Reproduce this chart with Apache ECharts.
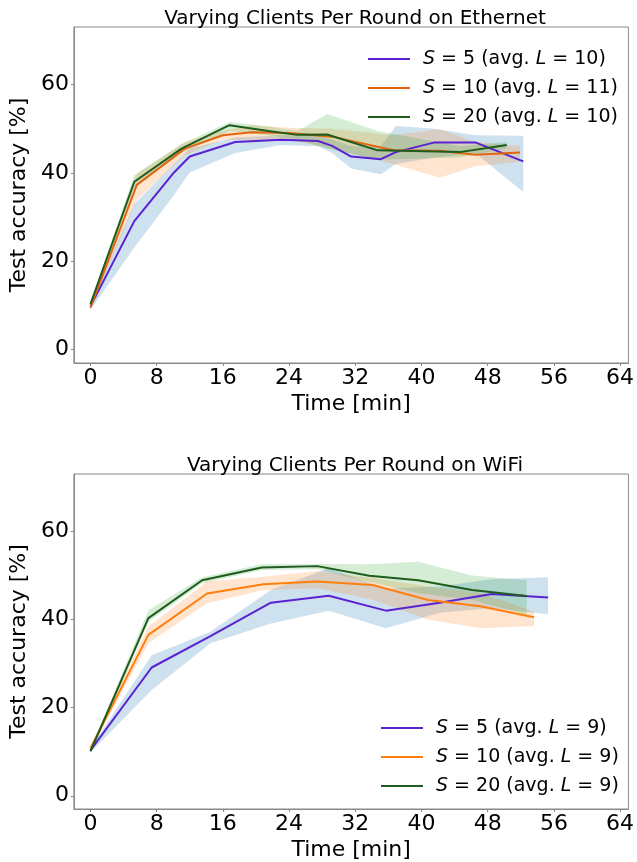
<!DOCTYPE html>
<html>
<head>
<meta charset="utf-8">
<script src="https://cdn.jsdelivr.net/npm/echarts@6/dist/echarts.min.js"></script>
<style>
  html, body { margin: 0; padding: 0; background: #fff; }
  #main { width: 637px; height: 862px; }
</style>
</head>
<body>
<div id="main"></div>
<script>
var chart = echarts.init(document.getElementById('main'));

// ---- Ethernet (top panel) ----
var ethS5Time  = [0, 5.3, 10.1, 12.0, 17.5, 23.0, 27.5, 29.2, 31.5, 35.1, 36.9, 41.6, 46.5, 52.3];
var ethS5Mean  = [9.8, 29.1, 40.1, 43.7, 47.0, 47.5, 47.2, 46.1, 43.7, 43.1, 44.7, 46.9, 46.9, 42.6];
var ethS5Low   = [9.0, 23.1, 35.0, 40.1, 44.5, 46.3, 46.0, 44.5, 41.0, 39.7, 42.0, 43.5, 44.5, 35.7];
var ethS5High  = [10.5, 33.0, 42.0, 45.5, 48.0, 48.5, 48.5, 47.5, 46.0, 46.0, 50.6, 50.0, 48.5, 48.4];

var ethS10Time = [0, 5.6, 11.4, 16.0, 19.5, 24.0, 29.2, 36.6, 42.2, 46.5, 51.9];
var ethS10Mean = [9.5, 37.3, 45.5, 48.5, 49.2, 49.0, 48.2, 45.1, 45.0, 44.1, 44.6];
var ethS10Low  = [9.2, 34.0, 44.0, 47.5, 47.5, 47.5, 45.5, 42.0, 38.9, 41.5, 42.5];
var ethS10High = [9.8, 39.8, 47.0, 49.5, 50.8, 50.2, 50.0, 48.5, 49.9, 47.0, 46.0];

var ethS20Time = [0, 5.3, 11.0, 16.8, 21.5, 25.0, 28.6, 34.7, 44.6, 50.3];
var ethS20Mean = [10.3, 38.0, 45.5, 50.8, 49.5, 48.6, 48.7, 45.1, 44.7, 46.3];
var ethS20Low  = [10.0, 36.5, 44.5, 49.5, 48.5, 47.5, 45.5, 43.0, 43.5, 45.5];
var ethS20High = [10.6, 39.5, 46.5, 51.5, 50.5, 49.5, 53.3, 49.5, 46.0, 47.0];

// ---- WiFi (bottom panel) ----
var wifiS5Time  = [0, 7.4, 14.5, 21.8, 28.8, 35.7, 42.2, 48.5, 55.3];
var wifiS5Mean  = [10.3, 29.1, 36.2, 43.8, 45.4, 42.0, 43.8, 45.8, 45.0];
var wifiS5Low   = [9.8, 24.0, 34.6, 39.1, 42.0, 38.0, 41.5, 42.6, 41.2];
var wifiS5High  = [10.8, 31.9, 37.2, 46.7, 51.6, 47.0, 47.5, 49.1, 49.6];

var wifiS10Time = [0, 7.0, 14.1, 20.9, 27.4, 34.1, 40.8, 47.1, 53.6];
var wifiS10Mean = [10.8, 36.5, 45.9, 48.0, 48.6, 47.8, 44.4, 43.0, 40.5];
var wifiS10Low  = [10.3, 34.6, 43.7, 46.7, 47.1, 44.5, 40.0, 38.0, 38.5];
var wifiS10High = [11.3, 38.4, 48.6, 49.7, 51.0, 49.4, 47.5, 46.0, 41.8];

var wifiS20Time = [0, 7.0, 13.5, 20.7, 27.4, 33.7, 39.6, 46.1, 52.7];
var wifiS20Mean = [10.1, 40.3, 48.9, 51.8, 52.1, 49.9, 48.9, 46.7, 45.3];
var wifiS20Low  = [9.8, 39.5, 48.2, 51.2, 51.4, 48.5, 46.0, 44.5, 41.0];
var wifiS20High = [10.4, 42.1, 49.6, 52.5, 52.6, 52.5, 53.1, 50.0, 48.9];

var ethNames  = ['S = 5 (avg. L = 10)', 'S = 10 (avg. L = 11)', 'S = 20 (avg. L = 10)'];
var wifiNames = ['S = 5 (avg. L = 9)', 'S = 10 (avg. L = 9)', 'S = 20 (avg. L = 9)'];
var xTicks = [0, 8, 16, 24, 32, 40, 48, 56, 64];
var yTicks = [0, 20, 40, 60];

var purple = '#5a22d2';
var ethOrange = '#e2650f';
var wifiOrange = '#ff7f0e';
var green = '#1e5c1e';
var bandBlue = 'rgba(31,119,180,0.22)';
var bandOrange = 'rgba(255,127,14,0.2)';
var bandGreen = 'rgba(44,160,44,0.2)';

var font = 'DejaVu Sans';
var axisGray = '#888';

function pairs(t, v) {
    var out = [];
    for (var i = 0; i < t.length; i++) {
        out.push([t[i], v[i]]);
    }
    return out;
}

// min/max band drawn as one polygon through the axis scales
function band(idx, t, lo, hi, color) {
    var data = [];
    for (var i = 0; i < t.length; i++) {
        data.push([t[i], lo[i], hi[i]]);
    }
    return {
        type: 'custom', xAxisIndex: idx, yAxisIndex: idx,
        data: data, silent: true, z: 1,
        encode: { x: 0, y: [1, 2] },
        renderItem: function (params, api) {
            if (params.dataIndex !== 0) return null;
            var pts = [];
            for (var i = 0; i < data.length; i++) {
                pts.push(api.coord([data[i][0], data[i][2]]));
            }
            for (var j = data.length - 1; j >= 0; j--) {
                pts.push(api.coord([data[j][0], data[j][1]]));
            }
            return {
                type: 'polygon',
                shape: { points: pts },
                style: { fill: color, stroke: null }
            };
        }
    };
}

function meanLine(idx, name, t, v, color) {
    return {
        type: 'line', name: name, xAxisIndex: idx, yAxisIndex: idx,
        data: pairs(t, v), showSymbol: false, symbol: 'none',
        lineStyle: { color: color, width: 2 }, itemStyle: { color: color },
        z: 3
    };
}

function xAxisOpt(idx) {
    return {
        type: 'value', gridIndex: idx, min: -2, max: 65,
        name: 'Time [min]', nameLocation: 'middle', nameGap: 30,
        nameTextStyle: { fontFamily: font, fontSize: 22, color: '#000' },
        axisLine: { show: true, onZero: false, lineStyle: { color: axisGray } },
        axisTick: { show: true, length: 3, customValues: xTicks, lineStyle: { color: axisGray } },
        axisLabel: { customValues: xTicks, margin: 4, fontFamily: font, fontSize: 22, color: '#000' },
        splitLine: { show: false }
    };
}

function yAxisOpt(idx) {
    return {
        type: 'value', gridIndex: idx, min: -3, max: 73,
        name: 'Test accuracy [%]', nameLocation: 'middle', nameGap: 34,
        nameTextStyle: { fontFamily: font, fontSize: 22, color: '#000' },
        axisLine: { show: true, onZero: false, lineStyle: { color: axisGray } },
        axisTick: { show: true, length: 3, customValues: yTicks, lineStyle: { color: axisGray } },
        axisLabel: { customValues: yTicks, margin: 5, fontFamily: font, fontSize: 22, color: '#000' },
        splitLine: { show: false }
    };
}

function legendOpt(names, top, left) {
    return {
        data: names, orient: 'vertical', top: top, left: left,
        icon: 'rect', itemWidth: 42, itemHeight: 2, itemGap: 7,
        formatter: function (n) {
            return n.replace(/S =/, '{i|S} =').replace(/L =/, '{i|L} =');
        },
        textStyle: {
            fontFamily: font, fontSize: 19, color: '#000', lineHeight: 22,
            padding: [0, 0, 0, 8],
            rich: { i: { fontFamily: font, fontSize: 19, fontStyle: 'italic', color: '#000' } }
        }
    };
}

var series = [
    band(0, ethS5Time, ethS5Low, ethS5High, bandBlue),
    band(0, ethS10Time, ethS10Low, ethS10High, bandOrange),
    band(0, ethS20Time, ethS20Low, ethS20High, bandGreen),
    band(1, wifiS5Time, wifiS5Low, wifiS5High, bandBlue),
    band(1, wifiS10Time, wifiS10Low, wifiS10High, bandOrange),
    band(1, wifiS20Time, wifiS20Low, wifiS20High, bandGreen)
];

series.push(meanLine(0, ethNames[0], ethS5Time, ethS5Mean, purple));
series.push(meanLine(0, ethNames[1], ethS10Time, ethS10Mean, ethOrange));
series.push(meanLine(0, ethNames[2], ethS20Time, ethS20Mean, green));
series.push(meanLine(1, wifiNames[0], wifiS5Time, wifiS5Mean, purple));
series.push(meanLine(1, wifiNames[1], wifiS10Time, wifiS10Mean, wifiOrange));
series.push(meanLine(1, wifiNames[2], wifiS20Time, wifiS20Mean, green));

chart.setOption({
    animation: false,
    backgroundColor: '#fff',
    title: [
        {
            text: 'Varying Clients Per Round on Ethernet', left: 350, top: 4, textAlign: 'center',
            textStyle: { fontFamily: font, fontSize: 20, fontWeight: 'normal', color: '#000' }
        },
        {
            text: 'Varying Clients Per Round on WiFi', left: 350, top: 451, textAlign: 'center',
            textStyle: { fontFamily: font, fontSize: 20, fontWeight: 'normal', color: '#000' }
        }
    ],
    legend: [
        legendOpt(ethNames, 43, 363),
        legendOpt(wifiNames, 712, 376)
    ],
    grid: [
        { left: 67, right: 5, top: 27, height: 336, show: true, borderColor: axisGray, borderWidth: 1, containLabel: false },
        { left: 67, right: 5, top: 474, height: 335, show: true, borderColor: axisGray, borderWidth: 1, containLabel: false }
    ],
    xAxis: [xAxisOpt(0), xAxisOpt(1)],
    yAxis: [yAxisOpt(0), yAxisOpt(1)],
    series: series
});

window.addEventListener('resize', function () {
    chart.resize();
});
</script>
</body>
</html>
